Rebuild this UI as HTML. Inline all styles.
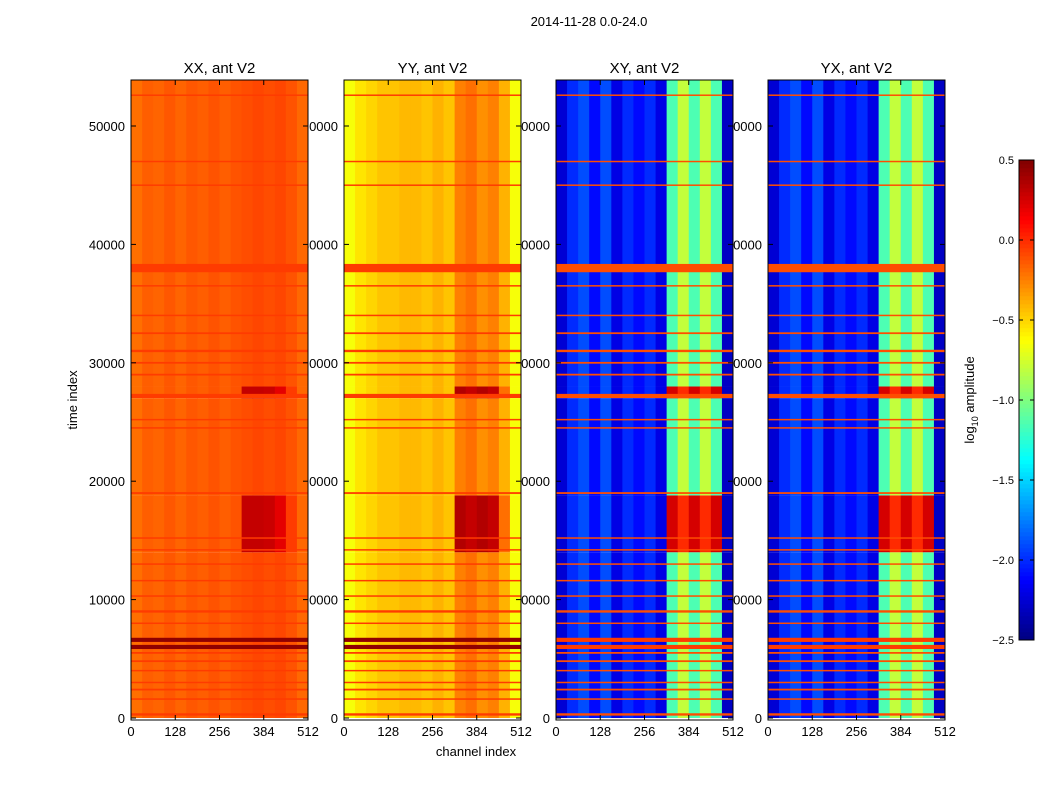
<!DOCTYPE html>
<html><head><meta charset="utf-8">
<style>
html,body{margin:0;padding:0;background:#fff;}
svg{display:block;font-family:"Liberation Sans","DejaVu Sans",sans-serif;}
</style></head>
<body>
<svg id="fig" width="1050" height="800" xmlns="http://www.w3.org/2000/svg">
<rect width="1050" height="800" fill="#fff"/>
<text x="589" y="26" font-size="13" text-anchor="middle">2014-11-28 0.0-24.0</text>
<text transform="translate(77,400) rotate(-90)" font-size="13" text-anchor="middle">time index</text>
<text x="476" y="756" font-size="13" text-anchor="middle">channel index</text>
<g id="labels"></g>
<g id="panels"></g>
<g id="cbar"></g>
</svg>
<script>
// ---- data ----
const panelNames = ["XX, ant V2","YY, ant V2","XY, ant V2","YX, ant V2"];
const bandCount = 16; // channel bands of 32
const baseXX = [-0.2,-0.15,-0.17,-0.13,-0.17,-0.13,-0.15,-0.12,-0.15,-0.12,-0.1,-0.08,-0.1,-0.08,-0.12,-0.18];
const baseYY = [-0.65,-0.55,-0.5,-0.45,-0.45,-0.42,-0.42,-0.45,-0.4,-0.45,-0.25,-0.2,-0.3,-0.25,-0.4,-0.65];
const baseXY = [-2.25,-2.0,-1.9,-2.1,-1.9,-2.2,-2.0,-2.1,-2.0,-2.2,-1.15,-0.8,-1.15,-0.8,-1.15,-2.3];
const baseYX = [-2.25,-2.0,-1.9,-2.1,-1.9,-2.2,-2.0,-2.1,-2.0,-2.2,-1.15,-0.8,-1.15,-0.8,-1.15,-2.3];
const hotXX = [0.3,0.3,0.28,0.2,-0.05];
const hotYY = [0.35,0.3,0.35,0.3,-0.2];
const hotXY = [0.25,0.0,0.25,0.0,0.25];
const hotBands = [10,11,12,13,14];
const segStart = [0,14000,18800,27000,28000];
const segEnd   = [14000,18800,27000,28000,54000];
const segHot   = [0,1,0,1,0];
const lineTimes = [300,1600,2400,3000,4000,4800,5500,6000,6600,8000,9000,10300,11600,13000,14200,15200,19000,24500,25200,27200,29000,30000,31000,32500,34000,36500,38000,45000,47000,52600];
const lineWidths = [200,120,150,120,120,150,150,350,350,120,200,120,120,120,120,120,150,120,120,350,150,150,200,150,120,120,700,120,120,120];
const lineHeavy = [0,0,0,0,0,0,0,1,1,0,0,0,0,0,0,0,0,0,0,0,0,0,0,0,0,0,0,0,0,0];
const lineValue = [-0.05,-0.05,-0.1,-0.1];
const heavyValue = [0.45,0.45,-0.05,-0.05];
const yTicks = [0,10000,20000,30000,40000,50000];
const xTicks = [0,128,256,384,512];
const cbTicks = [0.5,0.0,-0.5,-1.0,-1.5,-2.0,-2.5];
// ---- layout ----
const panelX = [131,344,556,768], panelW = 177, plotTop = 80, plotBottom = 720;
const vmin = -2.5, vmax = 0.5;
const yScale = t => 718 - (t/10000)*118.4;
const bases = [baseXX,baseYY,baseXY,baseYX];
const hots = [hotXX,hotYY,hotXY,hotXY];
function jet(v){
  let t=(v-vmin)/(vmax-vmin); t=Math.max(0,Math.min(1,t));
  const f=x=>Math.round(255*Math.max(0,Math.min(1,x)));
  return `rgb(${f(1.5-Math.abs(4*t-3))},${f(1.5-Math.abs(4*t-2))},${f(1.5-Math.abs(4*t-1))})`;
}
const NS="http://www.w3.org/2000/svg";
function mk(tag,attrs,parent){const e=document.createElementNS(NS,tag);for(const k in attrs)e.setAttribute(k,attrs[k]);parent.appendChild(e);return e;}
const labelsG=document.getElementById('labels'), panelsG=document.getElementById('panels');
panelNames.forEach((name,p)=>{
  const x0=panelX[p], xs=c=>x0+c/512*panelW;
  yTicks.forEach(t=>{
    const l=mk('text',{x:x0-6,y:yScale(t)+5,'font-size':13,'text-anchor':'end'},labelsG);
    
    
    l.textContent=t;
  });
  xTicks.forEach(c=>{
    const l=mk('text',{x:xs(c),y:736,'font-size':13,'text-anchor':'middle'},labelsG);
    
    
    l.textContent=c;
  });
  const g=mk('g',{},panelsG);
  
  
  const yTop=t=>Math.max(plotTop,yScale(t));
  segStart.forEach((s,i)=>{
    for(let b=0;b<bandCount;b++){
      const hi=hotBands.indexOf(b);
      const v=(segHot[i]&&hi>=0)?hots[p][hi]:bases[p][b];
      const y1=yTop(segEnd[i]), y2=Math.min(plotBottom,yScale(s));
      const r=mk('rect',{x:xs(b*32),y:y1,width:panelW/16+0.4,height:y2-y1,fill:jet(v)},g);
      
      
    }
  });
  lineTimes.forEach((t,i)=>{
    const h=Math.max(1.5,lineWidths[i]/10000*118.4);
    const v=lineHeavy[i]?heavyValue[p]:lineValue[p];
    const r=mk('rect',{x:x0,y:yScale(t)-h/2,width:panelW,height:h,fill:jet(v)},g);
    
    
  });
  mk('rect',{x:x0,y:plotTop,width:panelW,height:plotBottom-plotTop,fill:'none',stroke:'#000','stroke-width':1},g);
  yTicks.forEach(t=>{mk('line',{x1:x0,x2:x0+5,y1:yScale(t),y2:yScale(t),stroke:'#000'},g);mk('line',{x1:x0+panelW-5,x2:x0+panelW,y1:yScale(t),y2:yScale(t),stroke:'#000'},g);});
  xTicks.forEach(c=>{mk('line',{x1:xs(c),x2:xs(c),y1:plotBottom,y2:plotBottom-5,stroke:'#000'},g);mk('line',{x1:xs(c),x2:xs(c),y1:plotTop,y2:plotTop+5,stroke:'#000'},g);});
  const tt=mk('text',{x:x0+panelW/2,y:73,'font-size':15,'text-anchor':'middle'},g);
  
  
  tt.textContent=name;
});
// colorbar
const cb=document.getElementById('cbar');


const cbY=v=>640-(v-vmin)/(vmax-vmin)*480;
for(let i=0;i<120;i++){
  const v=vmin+(i+0.5)*(vmax-vmin)/120;
  mk('rect',{x:1019,y:cbY(v)-2.3,width:15,height:4.6,fill:jet(v)},cb);
}
mk('rect',{x:1019,y:160,width:15,height:480,fill:'none',stroke:'#000'},cb);
cbTicks.forEach(v=>{
  mk('line',{x1:1019,x2:1023,y1:cbY(v),y2:cbY(v),stroke:'#000'},cb);
  mk('line',{x1:1030,x2:1034,y1:cbY(v),y2:cbY(v),stroke:'#000'},cb);
  const l=mk('text',{x:1014,y:cbY(v)+4,'font-size':11,'text-anchor':'end'},cb);
  
  
  l.textContent=v.toFixed(1).replace('-','\u2212');
});
const cl=mk('text',{transform:'translate(974,400) rotate(-90)','font-size':13,'text-anchor':'middle'},cb);


cl.innerHTML='log<tspan font-size="9" dy="4">10</tspan><tspan dy="-4"> amplitude</tspan>';
</script>
</body></html>
